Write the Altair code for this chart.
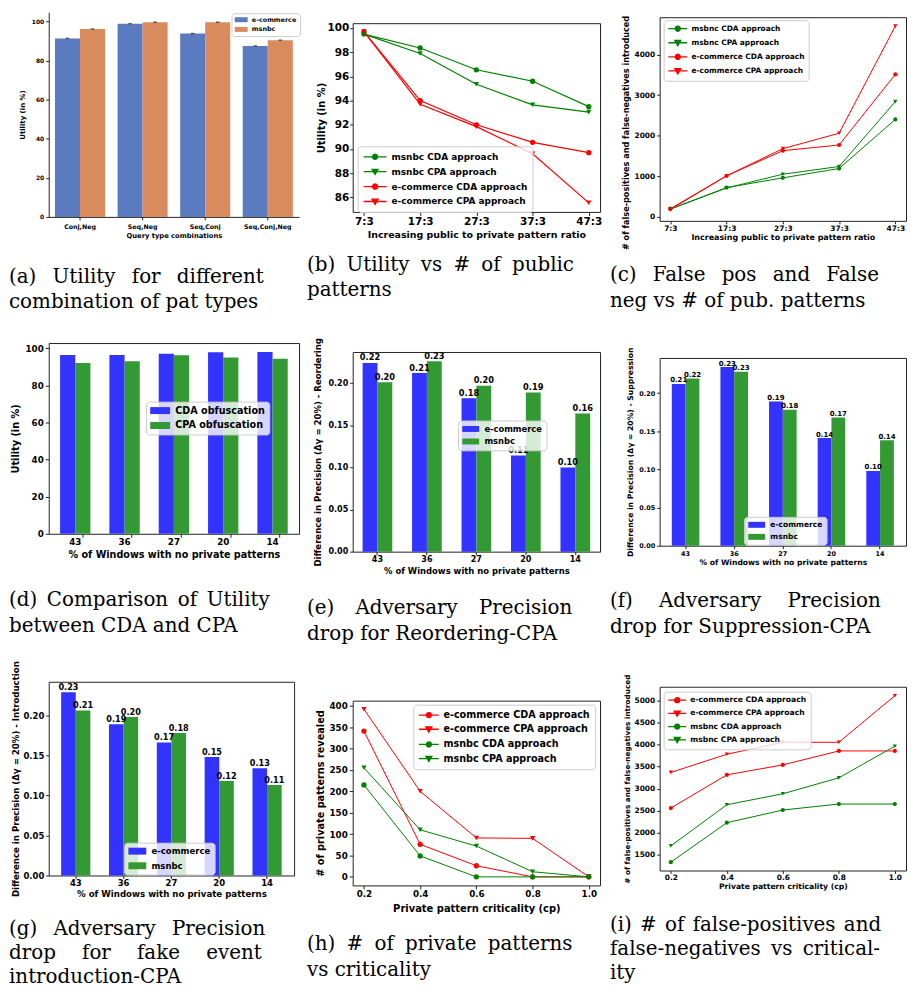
import altair as alt
import pandas as pd

# ---------------- data ----------------
# (a) utility for query type combinations
query_types = ["Conj,Neg", "Seq,Neg", "Seq,Conj", "Seq,Conj,Neg"]
qt_ecommerce = [91.4, 98.9, 93.9, 87.5]
qt_msnbc = [96.2, 99.7, 99.7, 90.5]

# (b) utility vs public/private ratio
ratios = ["7:3", "17:3", "27:3", "37:3", "47:3"]
b_msnbc_cda = [99.5, 98.35, 96.55, 95.6, 93.5]
b_msnbc_cpa = [99.5, 97.9, 95.35, 93.65, 93.05]
b_ecom_cda = [99.7, 94.0, 92.0, 90.55, 89.7]
b_ecom_cpa = [99.7, 93.7, 91.85, 89.6, 85.55]

# (c) false pos / false neg vs ratio
c_msbnc_cda = [190, 720, 960, 1190, 2400]
c_msbnc_cpa = [190, 710, 1050, 1240, 2840]
c_ecom_cda = [200, 1010, 1630, 1770, 3510]
c_ecom_cpa = [180, 1010, 1680, 2060, 4700]

# (d) utility CDA vs CPA
windows = ["43", "36", "27", "20", "14"]
d_cda = [96.4, 96.4, 97.0, 97.8, 98.0]
d_cpa = [92.1, 93.0, 96.2, 95.0, 94.4]

# (e) reordering
e_ecom = [0.224, 0.212, 0.182, 0.114, 0.100]
e_msnbc = [0.201, 0.226, 0.197, 0.189, 0.164]
# (f) suppression
f_ecom = [0.212, 0.234, 0.189, 0.141, 0.098]
f_msnbc = [0.219, 0.228, 0.178, 0.168, 0.138]
# (g) introduction
g_ecom = [0.229, 0.189, 0.166, 0.148, 0.134]
g_msnbc = [0.206, 0.198, 0.178, 0.118, 0.113]

# (h) private patterns revealed vs criticality
criticality = [0.2, 0.4, 0.6, 0.8, 1.0]
h_ecom_cda = [341, 76, 26, 0, 0]
h_ecom_cpa = [392, 200, 91, 90, 0]
h_msnbc_cda = [215, 49, 0, 0, 0]
h_msnbc_cpa = [255, 110, 72, 12, 0]

# (i) false pos / false neg vs criticality
i_ecom_cda = [2558, 3313, 3540, 3857, 3857]
i_ecom_cpa = [3368, 3782, 4054, 4054, 5113]
i_msbnc_cda = [1328, 2225, 2513, 2649, 2649]
i_msbnc_cpa = [1697, 2633, 2883, 3245, 3964]

# ---------------- style ----------------
EDGE = "#222222"
GREEN = "#008000"
RED = "#ff0000"
BBLUE = "#3333ff"
BGREEN = "#339933"
SB_BLUE = "#5a7bbf"
SB_ORANGE = "#d98b5e"

# extra (unicode) spaces used to imitate the justified caption lines
EN, P4, P6, THIN, HAIR = "\u2002", "\u2005", "\u2006", "\u2009", "\u200a"


def just(text, extra):
    return text.replace(" ", " " + extra)


IND = dict(color="independent", fill="independent", stroke="independent",
           shape="independent", xOffset="independent", x="independent", y="independent")
INDL = dict(color="independent", fill="independent", stroke="independent", shape="independent")


def f3(v):
    return f"{v:.3f}"


def line_symbols(L, e):
    """legend symbols: a line of L px with a marker in its middle, entry height e px"""
    u = e / 2.0
    x0, x1 = -1.0, -1.0 + L / u
    xm = (x0 + x1) / 2
    r = 2.5 / u
    circ = (f"M{f3(x0)},0H{f3(x1)}M{f3(xm - r)},0A{f3(r)},{f3(r)},0,1,0,{f3(xm + r)},0"
            f"A{f3(r)},{f3(r)},0,1,0,{f3(xm - r)},0Z")
    tw, tt, tb = 3.0 / u, 2.3 / u, 2.9 / u
    tri = (f"M{f3(x0)},0H{f3(x1)}M{f3(xm - tw)},{f3(-tt)}L{f3(xm + tw)},{f3(-tt)}"
           f"L{f3(xm)},{f3(tb)}Z")
    return circ, tri


def rect_symbol(W, H, e):
    u = e / 2.0
    x1 = -1.0 + W / u
    hh = (H / 2.0) / u
    return f"M-1,{f3(-hh)}H{f3(x1)}V{f3(hh)}H-1Z"


def column(*charts):
    # exact stacking: only the plot sizes count
    return alt.vconcat(*charts, spacing=0, bounds="flush").resolve_scale(**IND).resolve_legend(**INDL)


def hcat(*charts):
    return alt.hconcat(*charts, spacing=0).resolve_scale(**IND).resolve_legend(**INDL)


def spacer(w=1, h=1):
    return alt.Chart(alt.Data(values=[])).mark_point(size=0, opacity=0).properties(width=w, height=h)


def caption(lines, dx, offset, lh=26):
    return alt.TitleParams(text=lines, orient="bottom", anchor="start", frame="group",
                           dx=dx, offset=offset, font="DejaVu Serif", fontSize=20,
                           fontWeight="normal", color="black", lineHeight=lh, baseline="top")


def yaxis(title, values, lfs, tfs, ext, fmt=None, tick=3, lpad=2, tpad=2, titleY=None, domain=False):
    kw = dict(title=title, values=values, labelFontSize=lfs, titleFontSize=tfs,
              minExtent=ext, maxExtent=ext, titlePadding=tpad, tickSize=tick,
              labelPadding=lpad, domain=domain)
    if fmt:
        kw["format"] = fmt
    if titleY is not None:
        kw["titleY"] = titleY
    return alt.Axis(**kw)


def xaxis(title, lfs, tfs, tick, lpad, tpad, values=None, fmt=None, domain=False, band=None):
    kw = dict(title=title, labelFontSize=lfs, titleFontSize=tfs, tickSize=tick,
              labelPadding=lpad, titlePadding=tpad, labelAngle=0, domain=domain,
              labelFlush=False, labelOverlap=False)
    if values is not None:
        kw["values"] = values
    if fmt:
        kw["format"] = fmt
    if band is not None:
        kw["bandPosition"] = band
    return alt.Axis(**kw)


def line_legend(x, y, fs, L, rowpad, pad=4, gap=4):
    e = fs
    return alt.Legend(title=None, orient="none", legendX=x, legendY=y, labelFontSize=fs,
                      labelFontWeight="bold", labelColor="black", symbolSize=e * e,
                      symbolStrokeWidth=1.3, symbolOpacity=1, rowPadding=rowpad, padding=pad,
                      fillColor="rgba(255,255,255,0.8)", strokeColor="#cccccc",
                      cornerRadius=3, labelOffset=L + gap - e, labelLimit=400)


def bar_legend(x, y, fs, W, H, rowpad, pad=4, gap=5):
    e = fs
    return alt.Legend(title=None, orient="none", legendX=x, legendY=y,
                      symbolType=rect_symbol(W, H, e), symbolSize=e * e, symbolStrokeWidth=0,
                      labelFontSize=fs, labelFontWeight="bold", labelColor="black",
                      rowPadding=rowpad, padding=pad, fillColor="rgba(255,255,255,0.8)",
                      strokeColor="#cccccc", cornerRadius=3, labelOffset=W + gap - e,
                      labelLimit=400)


def line_panel(xvals, series, xtype, x_scale, x_axis, y_scale, y_axis, colors, markers,
               w, h, leg, sym, cap, msize=24, lw=1.0):
    rows = [{"x": xv, "series": name, "value": v}
            for name, vals in series for xv, v in zip(xvals, vals)]
    df = pd.DataFrame(rows)
    order = [s[0] for s in series]
    base = alt.Chart(df)
    xkw = dict(scale=x_scale, axis=x_axis)
    if xtype == "O":
        xkw["sort"] = xvals
    x = alt.X(f"x:{xtype}", **xkw)
    y = alt.Y("value:Q", scale=y_scale, axis=y_axis)
    cscale = alt.Scale(domain=order, range=colors)
    paths = [sym[0] if m == "circle" else sym[1] for m in markers]
    # invisible layer that only carries the legend (line + marker symbols)
    layers = [base.mark_point(filled=True, opacity=0).encode(
        x=x, y=y,
        fill=alt.Fill("series:N", scale=alt.Scale(domain=order, range=colors), legend=leg),
        stroke=alt.Stroke("series:N", scale=alt.Scale(domain=order, range=colors), legend=leg),
        shape=alt.Shape("series:N", scale=alt.Scale(domain=order, range=paths), legend=leg))]
    layers.append(base.mark_line(strokeWidth=lw).encode(
        x=x, y=y, color=alt.Color("series:N", scale=cscale, legend=None)))
    for mk in ("circle", "triangle-down"):
        sel = [s for s, m in zip(order, markers) if m == mk]
        layers.append(base.transform_filter(alt.FieldOneOfPredicate(field="series", oneOf=sel))
                      .mark_point(shape=mk, filled=True, size=msize, opacity=1)
                      .encode(x=x, y=y, color=alt.Color("series:N", scale=cscale, legend=None)))
    return alt.layer(*layers).properties(
        width=w, height=h, title=cap, view=alt.ViewBackground(stroke=EDGE, strokeWidth=1))


def bar_panel(cats, series, colors, w, h, x_scale, x_axis, y_scale, y_axis, leg, cap,
              label_fs=None, err=False, boxed=True):
    rows = [{"cat": c, "series": name, "value": v}
            for name, vals in series for c, v in zip(cats, vals)]
    df = pd.DataFrame(rows)
    order = [s[0] for s in series]
    base = alt.Chart(df)
    x = alt.X("cat:N", sort=cats, scale=x_scale, axis=x_axis)
    xo = alt.XOffset("series:N", sort=order, scale=alt.Scale(domain=order))
    y = alt.Y("value:Q", scale=y_scale, axis=y_axis)
    layers = [base.mark_bar().encode(
        x=x, xOffset=xo, y=y,
        color=alt.Color("series:N", scale=alt.Scale(domain=order, range=colors), legend=leg))]
    if err:
        layers.append(base.mark_tick(size=3.5, thickness=1.3, color="#444444", opacity=1)
                      .encode(x=x, xOffset=xo, y=y))
    if label_fs:
        layers.append(base.mark_text(baseline="bottom", dy=-0.5, fontWeight="bold",
                                     fontSize=label_fs, color="black")
                      .encode(x=x, xOffset=xo, y=y, text=alt.Text("value:Q", format=".2f")))
    view = alt.ViewBackground(stroke=EDGE, strokeWidth=1) if boxed else alt.ViewBackground(stroke=None)
    return alt.layer(*layers).properties(width=w, height=h, title=cap, view=view)


WIN_TITLE = "% of Windows with no private patterns"
RATIO_TITLE = "Increasing public to private pattern ratio"
CP_TITLE = "Private pattern criticality (cp)"
FPFN_TITLE = "# of false-positives and false-negatives introduced"
prec_ticks = [0, 0.05, 0.1, 0.15, 0.2]

# ---------------- panels ----------------
pa = bar_panel(
    query_types, [("e-commerce", qt_ecommerce), ("msnbc", qt_msnbc)], [SB_BLUE, SB_ORANGE],
    252, 206,
    alt.Scale(paddingInner=0.2, paddingOuter=0.1),
    xaxis("Query type combinations", 6.3, 6.8, 3, 3.25, 2.75, domain=True),
    alt.Scale(domain=[0, 104.8], nice=False, zero=False),
    yaxis("Utility (in %)", [0, 20, 40, 60, 80, 100], 6, 7, 21, domain=True),
    bar_legend(184, 1, 6.5, 13, 5, 2.8, pad=3, gap=4),
    caption([just("(a) Utility for different", EN), "combination of pat types"], -40, 28),
    err=True, boxed=False)

pb = line_panel(
    ratios, [("msnbc CDA approach", b_msnbc_cda), ("msnbc CPA approach", b_msnbc_cpa),
             ("e-commerce CDA approach", b_ecom_cda), ("e-commerce CPA approach", b_ecom_cpa)],
    "O", alt.Scale(type="point", padding=0.2),
    xaxis(RATIO_TITLE, 10.5, 9.5, 3.5, 1, 2.5),
    alt.Scale(domain=[84.8, 100.4], nice=False, zero=False),
    yaxis("Utility (in %)", list(range(86, 101, 2)), 10.5, 10, 24.5, lpad=1),
    [GREEN, GREEN, RED, RED], ["circle", "triangle-down", "circle", "triangle-down"],
    249, 190, line_legend(5, 124, 9, 23, 4, pad=5), line_symbols(23, 9),
    caption([just("(b) Utility vs # of public", P4), "patterns"], -46, 16), msize=28, lw=1.2)

pc = line_panel(
    ratios, [("msbnc CDA approach", c_msbnc_cda), ("msbnc CPA approach", c_msbnc_cpa),
             ("e-commerce CDA approach", c_ecom_cda), ("e-commerce CPA approach", c_ecom_cpa)],
    "O", alt.Scale(type="point", padding=0.19),
    xaxis(RATIO_TITLE, 7.5, 8, 3, 0.5, 2),
    alt.Scale(domain=[-100, 4920], nice=False, zero=False),
    yaxis(FPFN_TITLE, [0, 1000, 2000, 3000, 4000], 7.5, 8.2, 27, titleY=116, fmt="d"),
    [GREEN, GREEN, RED, RED], ["circle", "triangle-down", "circle", "triangle-down"],
    248, 205, line_legend(4, 3, 7.5, 19, 3.2, gap=3.5), line_symbols(19, 7.5),
    caption([just("(c) False pos and False", EN), "neg vs # of pub. patterns"], -50, 16), msize=18)

pd_ = bar_panel(
    windows, [("CDA obfuscation", d_cda), ("CPA obfuscation", d_cpa)], [BBLUE, BGREEN],
    252, 192,
    alt.Scale(paddingInner=0.385, paddingOuter=0.23),
    xaxis(WIN_TITLE, 8.8, 9.7, 3.5, 0.5, 3.5, band=0.75),
    alt.Scale(domain=[0, 102.8], nice=False, zero=False),
    yaxis("Utility (in %)", [0, 20, 40, 60, 80, 100], 8.8, 9.8, 26, tick=3.5),
    bar_legend(98, 59, 9.7, 20, 7, 5),
    caption([just("(d) Comparison of Utility", P6), "between CDA and CPA"], -40, 31))

pe = bar_panel(
    windows, [("e-commerce", e_ecom), ("msnbc", e_msnbc)], [BBLUE, BGREEN],
    249, 201,
    alt.Scale(paddingInner=0.4, paddingOuter=0.2),
    xaxis(WIN_TITLE, 8.1, 8.5, 3, 1, 2.5),
    alt.Scale(domain=[0, 0.237], nice=False, zero=False),
    yaxis("Difference in Precision (\u0394\u03b3 = 20%) - Reordering", prec_ticks, 8.1, 8.6, 28, fmt=".2f"),
    bar_legend(106, 69, 8.4, 17, 6, 3.6),
    caption([just("(e) Adversary Precision", EN + P4), "drop for Reordering-CPA"], -46, 24),
    label_fs=8.3)

pf = bar_panel(
    windows, [("e-commerce", f_ecom), ("msnbc", f_msnbc)], [BBLUE, BGREEN],
    248, 189,
    alt.Scale(paddingInner=0.433, paddingOuter=0.25),
    xaxis(WIN_TITLE, 6.5, 7.7, 3, 1.5, 2),
    alt.Scale(domain=[0, 0.246], nice=False, zero=False),
    yaxis("Difference in Precision (\u0394\u03b3 = 20%) - Suppression", prec_ticks, 6.5, 7.7, 23, fmt=".2f"),
    bar_legend(85, 160, 7.6, 17, 6, 4.1),
    caption([just("(f) Adversary Precision", EN + EN), "drop for Suppression-CPA"], -50, 25),
    label_fs=7)

pg = bar_panel(
    windows, [("e-commerce", g_ecom), ("msnbc", g_msnbc)], [BBLUE, BGREEN],
    247, 195,
    alt.Scale(paddingInner=0.39, paddingOuter=0.26),
    xaxis(WIN_TITLE, 8.5, 8.7, 3, 0.5, 2.5),
    alt.Scale(domain=[0, 0.242], nice=False, zero=False),
    yaxis("Difference in Precision (\u0394\u03b3 = 20%) - Introduction", prec_ticks, 8.5, 8.65, 26, fmt=".2f"),
    bar_legend(76, 162, 8.6, 18, 7, 4.7),
    caption([just("(g) Adversary Precision", EN), just("drop for fake event", EN + EN),
             "introduction-CPA"], -40, 21, lh=24),
    label_fs=8.2)

ph = line_panel(
    criticality, [("e-commerce CDA approach", h_ecom_cda), ("e-commerce CPA approach", h_ecom_cpa),
                  ("msnbc CDA approach", h_msnbc_cda), ("msnbc CPA approach", h_msnbc_cpa)],
    "Q", alt.Scale(domain=[0.16, 1.04], nice=False, zero=False),
    xaxis(CP_TITLE, 8.8, 10, 3.5, 1, 5, values=criticality, fmt=".1f"),
    alt.Scale(domain=[-20, 412], nice=False, zero=False),
    yaxis("# of private patterns revealed", list(range(0, 401, 50)), 8.8, 9.8, 25.5, tick=3.5),
    [RED, RED, GREEN, GREEN], ["circle", "triangle-down", "circle", "triangle-down"],
    249, 186, line_legend(61, 4, 9.7, 20, 3.3, pad=5), line_symbols(20, 9.7),
    caption([just("(h) # of private patterns", P4), "vs criticality"], -46, 20.5), msize=28)

pi = line_panel(
    criticality, [("e-commerce CDA approach", i_ecom_cda), ("e-commerce CPA approach", i_ecom_cpa),
                  ("msbnc CDA approach", i_msbnc_cda), ("msbnc CPA approach", i_msbnc_cpa)],
    "Q", alt.Scale(domain=[0.16, 1.04], nice=False, zero=False),
    xaxis(CP_TITLE, 7.5, 7.7, 3, 0.5, 1.5, values=criticality, fmt=".1f"),
    alt.Scale(domain=[1137, 5317], nice=False, zero=False),
    yaxis(FPFN_TITLE, list(range(1500, 5001, 500)), 7.5, 7.3, 26, fmt="d"),
    [RED, RED, GREEN, GREEN], ["circle", "triangle-down", "circle", "triangle-down"],
    248, 185, line_legend(4, 5, 7.7, 18, 2.3, gap=3.5), line_symbols(18, 7.7),
    caption([just("(i) # of false-positives and", HAIR), just("false-negatives vs critical-", THIN),
             "ity"], -50, 25, lh=24),
    msize=18)

# ---------------- layout: three exact columns ----------------
col1 = column(spacer(1, 1), pa, spacer(1, 127), pd_, spacer(1, 149), pg)
col2 = column(spacer(1, 12), pb, spacer(1, 141), pe, spacer(1, 150), ph)
col3 = column(spacer(1, 6), pc, spacer(1, 138), pf, spacer(1, 142), pi)

chart = hcat(col1, spacer(5, 1), col2, spacer(5.4, 1), col3).properties(
    padding={"left": 0, "top": 0, "right": 0, "bottom": 0}
).configure(font="DejaVu Sans").configure_view(stroke=None).configure_axis(
    grid=False, labelFontWeight="bold", titleFontWeight="bold", labelColor="black",
    titleColor="black", tickColor=EDGE, domainColor=EDGE, tickWidth=1, domainWidth=1,
    labelFont="DejaVu Sans", titleFont="DejaVu Sans"
).configure_legend(labelFont="DejaVu Sans")

chart.save("out.html", embed_options={"renderer": "svg", "actions": False})
